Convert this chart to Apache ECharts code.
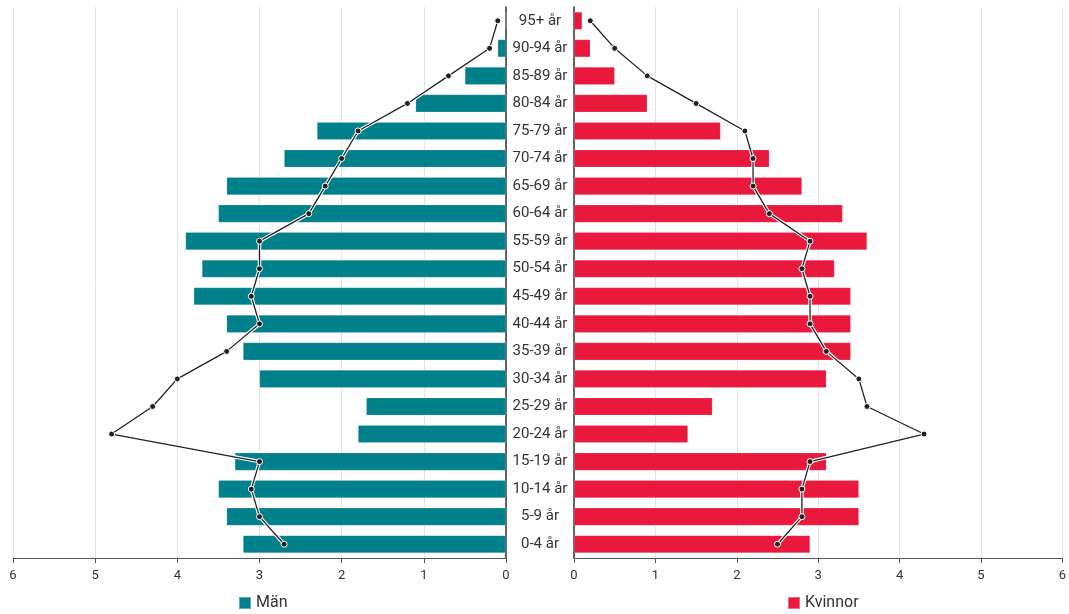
<!DOCTYPE html>
<html>
<head>
<meta charset="utf-8">
<script src="https://cdn.jsdelivr.net/npm/echarts@6/dist/echarts.min.js"></script>
<style>
html,body{margin:0;padding:0;background:#fff;}
#chart{width:1069px;height:614px;}
</style>
</head>
<body>
<div id="chart"></div>
<script>
const categories = ['95+ år','90-94 år','85-89 år','80-84 år','75-79 år','70-74 år','65-69 år','60-64 år','55-59 år','50-54 år','45-49 år','40-44 år','35-39 år','30-34 år','25-29 år','20-24 år','15-19 år','10-14 år','5-9 år','0-4 år'];
const menBars = [0, 0.1, 0.5, 1.1, 2.3, 2.7, 3.4, 3.5, 3.9, 3.7, 3.8, 3.4, 3.2, 3.0, 1.7, 1.8, 3.3, 3.5, 3.4, 3.2];
const menLine = [0.1, 0.2, 0.7, 1.2, 1.8, 2.0, 2.2, 2.4, 3.0, 3.0, 3.1, 3.0, 3.4, 4.0, 4.3, 4.8, 3.0, 3.1, 3.0, 2.7];
const womenBars = [0.1, 0.2, 0.5, 0.9, 1.8, 2.4, 2.8, 3.3, 3.6, 3.2, 3.4, 3.4, 3.4, 3.1, 1.7, 1.4, 3.1, 3.5, 3.5, 2.9];
const womenLine = [0.2, 0.5, 0.9, 1.5, 2.1, 2.2, 2.2, 2.4, 2.9, 2.8, 2.9, 2.9, 3.1, 3.5, 3.6, 4.3, 2.9, 2.8, 2.8, 2.5];
const xTicks = [0, 1, 2, 3, 4, 5, 6];

const TEAL = '#00808a';
const RED = '#e8193d';
const FONT = 'Roboto';

const chart = echarts.init(document.getElementById('chart'));

function xAxisCfg(idx, inverse) {
  return {
    type: 'value', gridIndex: idx, inverse: inverse,
    min: xTicks[0], max: xTicks[xTicks.length - 1], interval: 1,
    axisLine: {show: true, lineStyle: {color: '#555', width: 1}},
    axisTick: {show: true, length: 5, lineStyle: {color: '#555'}},
    axisLabel: {color: '#333', fontSize: 13, fontFamily: FONT, margin: 11},
    splitLine: {show: true, lineStyle: {color: '#e3e3e3', width: 1}}
  };
}

function lineSeries(idx, data, color, width, withSymbol, z) {
  return {
    type: 'line', xAxisIndex: idx, yAxisIndex: idx, data: data,
    symbol: withSymbol ? 'circle' : 'none', symbolSize: 6,
    itemStyle: {color: '#222', borderColor: '#fff', borderWidth: 1},
    lineStyle: {color: color, width: width},
    z: z, silent: true, animation: false
  };
}

chart.setOption({
  animation: false,
  textStyle: {fontFamily: FONT},
  legend: [
    {data: ['Män'], left: 233, top: 590, itemWidth: 12, itemHeight: 12, itemGap: 6,
     textStyle: {fontSize: 16, color: '#333', fontFamily: FONT}, icon: 'rect'},
    {data: ['Kvinnor'], left: 782, top: 590, itemWidth: 12, itemHeight: 12, itemGap: 6,
     textStyle: {fontSize: 16, color: '#333', fontFamily: FONT}, icon: 'rect'}
  ],
  grid: [
    {left: 13, right: 563, top: 7, bottom: 56},
    {left: 574, right: 3, top: 7, bottom: 56}
  ],
  xAxis: [xAxisCfg(0, true), xAxisCfg(1, false)],
  yAxis: [
    {type: 'category', gridIndex: 0, data: categories, inverse: true, position: 'right',
     axisLine: {show: true, lineStyle: {color: '#333', width: 1.5}},
     axisTick: {show: false}, axisLabel: {show: false}},
    {type: 'category', gridIndex: 1, data: categories, inverse: true, position: 'left',
     axisLine: {show: true, lineStyle: {color: '#333', width: 1.5}},
     axisTick: {show: false},
     axisLabel: {show: true, align: 'center', margin: 34, color: '#333', fontSize: 15, fontFamily: FONT}}
  ],
  series: [
    {name: 'Män', type: 'bar', xAxisIndex: 0, yAxisIndex: 0, data: menBars, barWidth: '64%',
     itemStyle: {color: TEAL, borderColor: 'rgba(255,255,255,0.35)', borderWidth: 0.5}, z: 2},
    {name: 'Kvinnor', type: 'bar', xAxisIndex: 1, yAxisIndex: 1, data: womenBars, barWidth: '64%',
     itemStyle: {color: RED, borderColor: 'rgba(255,255,255,0.35)', borderWidth: 0.5}, z: 2},
    lineSeries(0, menLine, '#fff', 3.5, false, 3),
    lineSeries(0, menLine, '#222', 1.3, true, 4),
    lineSeries(1, womenLine, '#fff', 3.5, false, 3),
    lineSeries(1, womenLine, '#222', 1.3, true, 4)
  ]
});
</script>
</body>
</html>
